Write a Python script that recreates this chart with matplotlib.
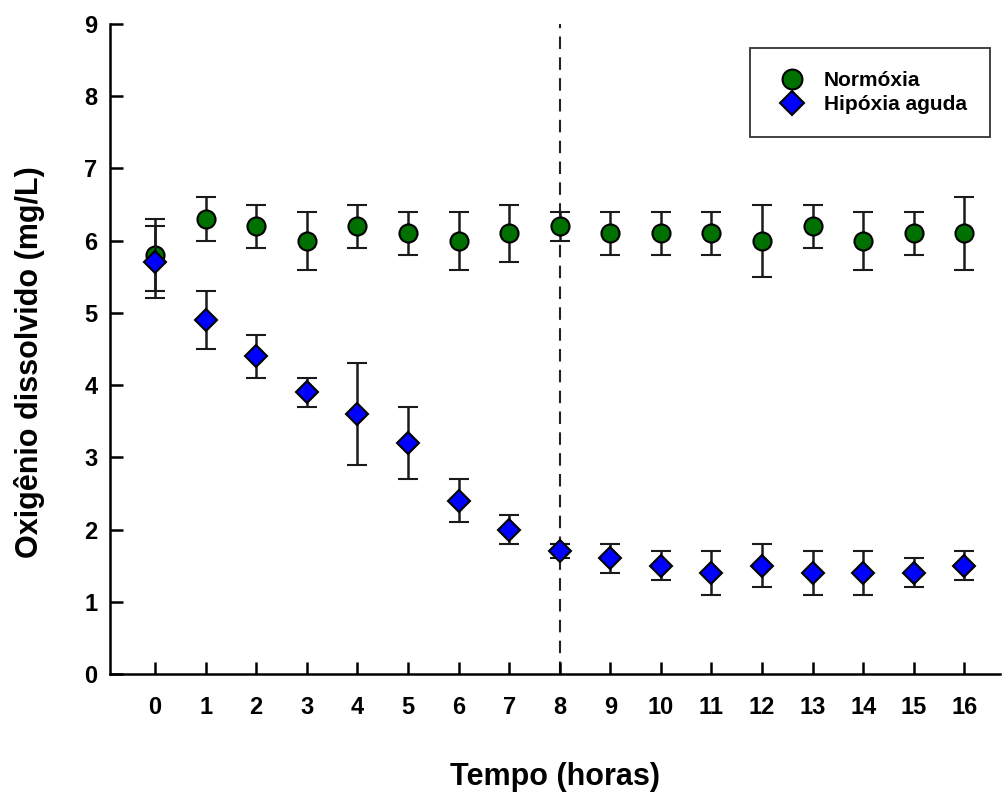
import matplotlib
matplotlib.use('Agg')
import matplotlib.pyplot as plt

plt.rcParams['font.family'] = ['Liberation Sans', 'DejaVu Sans']
plt.rcParams['font.weight'] = 'bold'

# Dados
tempo = [0, 1, 2, 3, 4, 5, 6, 7, 8, 9, 10, 11, 12, 13, 14, 15, 16]
normoxia = [5.8, 6.3, 6.2, 6.0, 6.2, 6.1, 6.0, 6.1, 6.2, 6.1, 6.1, 6.1, 6.0, 6.2, 6.0, 6.1, 6.1]
normoxia_err = [0.5, 0.3, 0.3, 0.4, 0.3, 0.3, 0.4, 0.4, 0.2, 0.3, 0.3, 0.3, 0.5, 0.3, 0.4, 0.3, 0.5]
hipoxia = [5.7, 4.9, 4.4, 3.9, 3.6, 3.2, 2.4, 2.0, 1.7, 1.6, 1.5, 1.4, 1.5, 1.4, 1.4, 1.4, 1.5]
hipoxia_err = [0.5, 0.4, 0.3, 0.2, 0.7, 0.5, 0.3, 0.2, 0.1, 0.2, 0.2, 0.3, 0.3, 0.3, 0.3, 0.2, 0.2]
yticks = [0, 1, 2, 3, 4, 5, 6, 7, 8, 9]

fig = plt.figure(figsize=(10.03, 7.92), dpi=100)
ax = fig.add_axes([0.1097, 0.149, 0.887, 0.8207])

ax.axvline(8, color='#222222', linestyle=(0, (6, 4)), linewidth=1.5, zorder=1)

ax.errorbar(tempo, normoxia, yerr=normoxia_err, fmt='o', color='#1a1a1a', ecolor='#1a1a1a',
            elinewidth=1.8, capsize=7, capthick=1.8, markersize=13,
            markerfacecolor='#007000', markeredgecolor='black', markeredgewidth=1.5,
            label='Normóxia', zorder=3)
ax.errorbar(tempo, hipoxia, yerr=hipoxia_err, fmt='D', color='#1a1a1a', ecolor='#1a1a1a',
            elinewidth=1.8, capsize=7, capthick=1.8, markersize=11,
            markerfacecolor='#0000ff', markeredgecolor='black', markeredgewidth=1.5,
            label='Hipóxia aguda', zorder=4)

ax.set_xlim(-0.89, 16.7)
ax.set_ylim(0, 9)
ax.set_xticks(tempo)
ax.set_yticks(yticks)
ax.spines['top'].set_visible(False)
ax.spines['right'].set_visible(False)
ax.spines['left'].set_linewidth(1.8)
ax.spines['bottom'].set_linewidth(1.8)
ax.tick_params(axis='y', direction='in', length=9, width=1.8, pad=9, labelsize=17)
ax.tick_params(axis='x', direction='in', length=9, width=1.8, pad=16, labelsize=17)
for lbl in ax.get_xticklabels() + ax.get_yticklabels():
    lbl.set_fontweight('bold')

ax.set_xlabel('Tempo (horas)', fontsize=22, fontweight='bold', labelpad=31)
ax.set_ylabel('Oxigênio dissolvido (mg/L)', fontsize=22, fontweight='bold', labelpad=28)
ax.yaxis.label.set_y(0.48)

handles, labels = ax.get_legend_handles_labels()
handles = [h[0] for h in handles]
leg = ax.legend(handles, labels, loc='upper right', bbox_to_anchor=(0.989, 0.963),
                fontsize=15, frameon=True, fancybox=False, edgecolor='black',
                borderpad=1.1, handlelength=1.8, handletextpad=0.65,
                labelspacing=0.25, borderaxespad=0, markerscale=1.1)
leg.get_frame().set_linewidth(1.3)
for t in leg.get_texts():
    t.set_fontweight('bold')

fig.savefig('out.png', dpi=100)
